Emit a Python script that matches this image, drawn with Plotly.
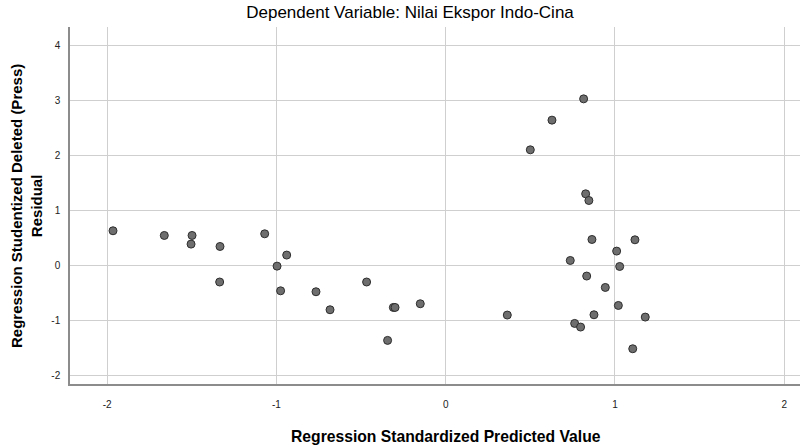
import plotly.graph_objects as go

# Regression Standardized Predicted Value (x) and Studentized Deleted Residual (y)
pred = [-1.965, -1.662, -1.498, -1.504, -1.333, -1.335, -1.069, -0.996, -0.939, -0.975,
        -0.766, -0.683, -0.467, -0.343, -0.309, -0.299, -0.150, 0.364,
        0.500, 0.628, 0.815, 0.827, 0.846, 0.864, 1.118, 1.010, 0.736, 1.028,
        0.833, 0.943, 1.020, 0.876, 1.179, 0.762, 0.797, 1.105]
resid = [0.63, 0.545, 0.545, 0.388, 0.345, -0.30, 0.575, -0.012, 0.189, -0.46,
         -0.477, -0.804, -0.30, -1.36, -0.762, -0.762, -0.695, -0.90,
         2.10, 2.639, 3.025, 1.301, 1.18, 0.472, 0.466, 0.261, 0.091, -0.018,
         -0.192, -0.399, -0.726, -0.895, -0.937, -1.052, -1.118, -1.512]

x_ticks = [-2, -1, 0, 1, 2]
x_labels = ["-2", "-1", "0", "1", "2"]
y_ticks = [-2, -1, 0, 1, 2, 3, 4]
y_labels = ["-2", "-1", "0", "1", "2", "3", "4"]

title_text = "Dependent Variable: Nilai Ekspor Indo-Cina"
x_title = "Regression Standardized Predicted Value"
y_title = "Regression Studentized Deleted (Press)<br>Residual"

FONT = "Liberation Sans, Arial, sans-serif"
W, H = 809, 447
# plot area in page pixels: left 70, right 800, top 27, bottom 384
ml, mr, mt, mb = 70, W - 800, 27, H - 384
pw = W - ml - mr
ph = H - mt - mb

def px_x(X):
    return (X - ml) / pw

def px_y(Y):
    return (H - mb - Y) / ph

fig = go.Figure()
fig.add_trace(go.Scatter(
    x=pred, y=resid, mode="markers",
    marker=dict(size=8, color="#6e6e6e", line=dict(color="#2e2e2e", width=1)),
    hoverinfo="x+y", showlegend=False,
))

fig.update_layout(
    width=W, height=H,
    margin=dict(l=ml, r=mr, t=mt, b=mb, pad=0),
    paper_bgcolor="white", plot_bgcolor="white",
    font=dict(family=FONT, color="black"),
    title=dict(text=title_text, font=dict(size=17, family=FONT, color="black"),
               xref="container", yref="container", x=410 / W, y=1 - 12 / H,
               xanchor="center", yanchor="middle"),
    xaxis=dict(range=[-2.219, 2.093], tickvals=x_ticks, ticktext=x_labels,
               showgrid=True, gridcolor="#cfcfcf", gridwidth=1.4,
               zeroline=False, showline=True, linecolor="#8c8c8c", linewidth=1.5,
               ticks="", tickfont=dict(size=10, color="#222"), ticklabelstandoff=10),
    yaxis=dict(range=[-2.152, 4.33], tickvals=y_ticks, ticktext=y_labels,
               showgrid=True, gridcolor="#cfcfcf", gridwidth=1.4,
               zeroline=False, showline=True, linecolor="#8c8c8c", linewidth=1.5,
               ticks="", tickfont=dict(size=10, color="#222"), ticklabelstandoff=6),
    annotations=[
        dict(text="<b>" + x_title + "</b>", xref="paper", yref="paper",
             x=px_x(445.7), y=px_y(437), xanchor="center", yanchor="middle",
             showarrow=False, font=dict(size=15.7, family=FONT, color="black")),
        dict(text="<b>" + y_title.replace("<br>", "</b><br><b>") + "</b>",
             xref="paper", yref="paper", textangle=-90,
             x=px_x(26), y=px_y(206), xanchor="center", yanchor="middle",
             showarrow=False, font=dict(size=15, family=FONT, color="black")),
    ],
)

fig.write_html("out.html", config={"displayModeBar": False},
               post_script="document.body.style.margin='0';document.body.style.overflow='hidden';")
